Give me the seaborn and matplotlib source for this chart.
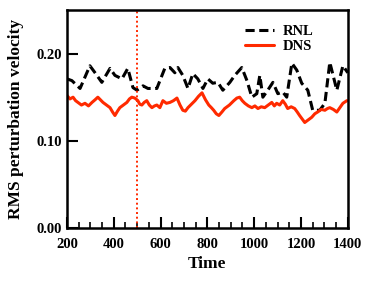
import matplotlib
matplotlib.use("Agg")
import matplotlib.pyplot as plt
import seaborn as sns
import pandas as pd
from matplotlib.ticker import MultipleLocator

rnl_t = [200, 221, 256, 298, 320, 349, 384, 405, 435, 460, 482, 499, 525, 546, 584,
         618, 640, 661, 674, 695, 717, 738, 759, 781, 802, 823, 845, 866, 896, 917,
         947, 969, 990, 1011, 1024, 1037, 1058, 1080, 1101, 1122, 1139, 1161, 1182,
         1203, 1229, 1250, 1280, 1302, 1323, 1353, 1379, 1400]
rnl_v = [0.171, 0.169, 0.160, 0.186, 0.178, 0.167, 0.183, 0.175, 0.171, 0.183, 0.161,
         0.158, 0.163, 0.160, 0.160, 0.183, 0.184, 0.178, 0.184, 0.175, 0.160, 0.177,
         0.171, 0.160, 0.171, 0.166, 0.167, 0.158, 0.167, 0.175, 0.184, 0.169, 0.150,
         0.154, 0.175, 0.150, 0.158, 0.167, 0.154, 0.156, 0.150, 0.189, 0.181, 0.166,
         0.158, 0.135, 0.135, 0.143, 0.190, 0.158, 0.186, 0.178]

dns_t = [200, 213, 226, 237, 247, 262, 277, 292, 307, 320, 332, 343, 354, 369, 384,
         395, 405, 416, 426, 441, 456, 467, 477, 490, 503, 511, 520, 530, 541, 552,
         563, 574, 584, 597, 610, 625, 640, 655, 670, 683, 695, 706, 717, 732, 747,
         762, 777, 792, 806, 817, 827, 838, 849, 862, 874, 894, 913, 926, 938, 949,
         960, 975, 990, 1003, 1016, 1030, 1045, 1060, 1075, 1086, 1096, 1109, 1122,
         1133, 1143, 1158, 1173, 1184, 1194, 1205, 1216, 1231, 1246, 1259, 1271,
         1287, 1302, 1313, 1323, 1338, 1353, 1366, 1379, 1396]
dns_v = [0.152, 0.148, 0.150, 0.146, 0.144, 0.141, 0.143, 0.140, 0.144, 0.147, 0.150,
         0.147, 0.144, 0.141, 0.138, 0.133, 0.129, 0.134, 0.138, 0.141, 0.144, 0.148,
         0.150, 0.149, 0.146, 0.142, 0.141, 0.144, 0.146, 0.141, 0.138, 0.140, 0.141,
         0.138, 0.146, 0.143, 0.144, 0.146, 0.149, 0.141, 0.135, 0.134, 0.138, 0.142,
         0.146, 0.151, 0.155, 0.147, 0.141, 0.138, 0.135, 0.131, 0.129, 0.133, 0.137,
         0.141, 0.146, 0.149, 0.150, 0.146, 0.143, 0.140, 0.138, 0.140, 0.137, 0.139,
         0.138, 0.141, 0.144, 0.140, 0.143, 0.141, 0.146, 0.142, 0.137, 0.139, 0.137,
         0.133, 0.129, 0.125, 0.121, 0.124, 0.127, 0.131, 0.133, 0.136, 0.135, 0.137,
         0.138, 0.136, 0.133, 0.138, 0.143, 0.146]

marker_time = 500

sns.set_style("ticks")
plt.rcParams['font.family'] = ['Liberation Serif', 'DejaVu Serif']
plt.rcParams['font.weight'] = 'bold'
for k in ['text.color', 'axes.labelcolor', 'xtick.color', 'ytick.color', 'axes.edgecolor']:
    plt.rcParams[k] = 'black'

fig = plt.figure(figsize=(3.74, 2.84), dpi=100)
ax = fig.add_axes([0.179, 0.197, 0.751, 0.768])

red = '#ff2a00'
df_r = pd.DataFrame({'t': rnl_t, 'v': rnl_v})
df_d = pd.DataFrame({'t': dns_t, 'v': dns_v})
sns.lineplot(data=df_r, x='t', y='v', ax=ax, color='black', lw=2.2,
             linestyle=(0, (3, 1.5)), label='RNL')
sns.lineplot(data=df_d, x='t', y='v', ax=ax, color=red, lw=2.2, label='DNS')
ax.axvline(marker_time, color=red, lw=1.4, linestyle=(0, (1, 1.4)))

ax.set_xlim(200, 1400)
ax.set_ylim(0, 0.25)
ax.xaxis.set_major_locator(MultipleLocator(200))
ax.xaxis.set_minor_locator(MultipleLocator(50))
ax.set_yticks([0.0, 0.1, 0.2])
ax.set_yticklabels(['0.00', '0.10', '0.20'])
ax.tick_params(axis='both', which='major', direction='in', length=8, width=1.5,
               labelsize=10.5, colors='black')
ax.tick_params(axis='x', which='major', pad=7)
ax.tick_params(axis='x', which='minor', direction='in', length=4, width=1.2,
               colors='black')
for lab in ax.get_xticklabels() + ax.get_yticklabels():
    lab.set_fontweight('bold')
for s in ax.spines.values():
    s.set_linewidth(1.8)
    s.set_color('black')
    s.set_visible(True)

ax.set_xlabel('Time', fontsize=12.5, fontweight='bold', labelpad=4)
ax.set_ylabel('RMS perturbation velocity', fontsize=12.5, fontweight='bold', labelpad=9)

leg = ax.legend(loc='upper right', frameon=False, fontsize=10.5, handlelength=2.0,
                borderaxespad=0.4, labelspacing=0.1, handletextpad=0.6,
                bbox_to_anchor=(0.92, 0.985))
for t in leg.get_texts():
    t.set_fontweight('bold')

fig.savefig('out.png', dpi=100)
